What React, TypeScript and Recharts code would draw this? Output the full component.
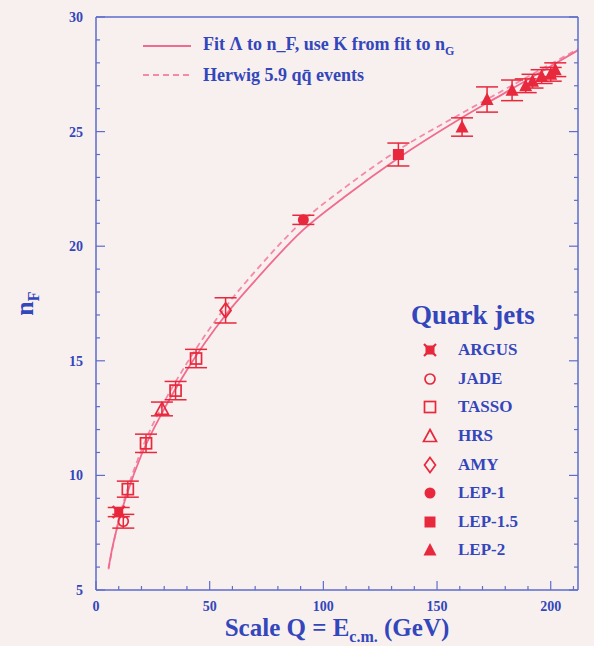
import React from "react";
import {
  ComposedChart,
  Line,
  Scatter,
  ErrorBar,
  XAxis,
  YAxis,
} from "recharts";

// ---- axis ticks ----
const X_TICKS = [0, 50, 100, 150, 200];
const X_MINOR = [10, 20, 30, 40, 60, 70, 80, 90, 110, 120, 130, 140, 160, 170, 180, 190, 210];
const Y_TICKS = [5, 10, 15, 20, 25, 30];
const Y_MINOR = [
  6, 7, 8, 9, 11, 12, 13, 14, 16, 17, 18, 19, 21, 22, 23, 24, 26, 27, 28, 29,
];

// ---- measurements (Q in GeV, mean multiplicity, error) ----
const ARGUS_Q = [10];
const ARGUS_N = [8.4];
const ARGUS_E = [0.2];

const JADE_Q = [12];
const JADE_N = [8.0];
const JADE_E = [0.3];

const TASSO_Q = [14, 22, 35, 44];
const TASSO_N = [9.4, 11.4, 13.7, 15.1];
const TASSO_E = [0.35, 0.4, 0.4, 0.4];

const HRS_Q = [29];
const HRS_N = [12.9];
const HRS_E = [0.3];

const AMY_Q = [57];
const AMY_N = [17.2];
const AMY_E = [0.55];

const LEP1_Q = [91.2];
const LEP1_N = [21.15];
const LEP1_E = [0.2];

const LEP15_Q = [133];
const LEP15_N = [24.0];
const LEP15_E = [0.5];

const LEP2_Q = [161, 172, 183, 189, 192, 196, 200, 202];
const LEP2_N = [25.2, 26.4, 26.8, 27.0, 27.2, 27.4, 27.5, 27.7];
const LEP2_E = [0.4, 0.55, 0.45, 0.3, 0.3, 0.3, 0.3, 0.3];

// ---- curves ----
const CURVE_Q = [5.5, 7, 10, 14, 20, 30, 40, 57, 70, 91, 110, 133, 160, 180, 200, 212];
const FIT_N = [5.95, 6.75, 8.0, 9.3, 10.9, 12.9, 14.6, 17.0, 18.5, 20.7, 22.2, 23.85, 25.55, 26.7, 27.85, 28.55];
const HERWIG_N = [5.9, 6.7, 8.05, 9.45, 11.1, 13.2, 14.9, 17.35, 18.9, 21.1, 22.6, 24.2, 25.75, 26.85, 27.95, 28.6];

const BG = "#f8f0ef";
const AXIS = "#5d6dcc";
const INK = "#3346bb";
const RED = "#e8283c";
const PINK = "#f06c8e";
const SERIF = "'Liberation Serif', 'DejaVu Serif', serif";

type Kind = "argus" | "jade" | "tasso" | "hrs" | "amy" | "lep1" | "lep15" | "lep2";

const toPoints = (q: number[], n: number[], e?: number[]) =>
  q.map((v, i) => ({ q: v, n: n[i], err: e ? e[i] : 0 }));

const SERIES: { name: string; kind: Kind; data: { q: number; n: number; err: number }[] }[] = [
  { name: "ARGUS", kind: "argus", data: toPoints(ARGUS_Q, ARGUS_N, ARGUS_E) },
  { name: "JADE", kind: "jade", data: toPoints(JADE_Q, JADE_N, JADE_E) },
  { name: "TASSO", kind: "tasso", data: toPoints(TASSO_Q, TASSO_N, TASSO_E) },
  { name: "HRS", kind: "hrs", data: toPoints(HRS_Q, HRS_N, HRS_E) },
  { name: "AMY", kind: "amy", data: toPoints(AMY_Q, AMY_N, AMY_E) },
  { name: "LEP-1", kind: "lep1", data: toPoints(LEP1_Q, LEP1_N, LEP1_E) },
  { name: "LEP-1.5", kind: "lep15", data: toPoints(LEP15_Q, LEP15_N, LEP15_E) },
  { name: "LEP-2", kind: "lep2", data: toPoints(LEP2_Q, LEP2_N, LEP2_E) },
];

const fitCurve = toPoints(CURVE_Q, FIT_N);
const herwigCurve = toPoints(CURVE_Q, HERWIG_N);

const X_ALL = [...X_TICKS, ...X_MINOR].sort((a, b) => a - b);
const Y_ALL = [...Y_TICKS, ...Y_MINOR].sort((a, b) => a - b);

function Marker({ kind, cx, cy }: { kind: Kind; cx: number; cy: number }) {
  const open = { fill: "none", stroke: RED, strokeWidth: 1.7 };
  switch (kind) {
    case "argus":
      return (
        <g stroke={RED} strokeWidth={2.2}>
          <rect x={cx - 4.5} y={cy - 4.5} width={9} height={9} fill={RED} stroke="none" />
          <line x1={cx - 6} y1={cy - 6} x2={cx + 6} y2={cy + 6} />
          <line x1={cx - 6} y1={cy + 6} x2={cx + 6} y2={cy - 6} />
        </g>
      );
    case "jade":
      return <circle cx={cx} cy={cy} r={5} {...open} />;
    case "tasso":
      return <rect x={cx - 5.5} y={cy - 5.5} width={11} height={11} {...open} />;
    case "hrs":
      return <polygon points={`${cx},${cy - 6.5} ${cx + 6.5},${cy + 5.5} ${cx - 6.5},${cy + 5.5}`} {...open} />;
    case "amy":
      return <polygon points={`${cx},${cy - 7.5} ${cx + 5.5},${cy} ${cx},${cy + 7.5} ${cx - 5.5},${cy}`} {...open} />;
    case "lep1":
      return <circle cx={cx} cy={cy} r={5.5} fill={RED} />;
    case "lep15":
      return <rect x={cx - 5.5} y={cy - 5.5} width={11} height={11} fill={RED} />;
    default:
      return <polygon points={`${cx},${cy - 7} ${cx + 6.5},${cy + 5.5} ${cx - 6.5},${cy + 5.5}`} fill={RED} />;
  }
}

// inward tick marks (long on labelled values) plus the number where labelled
const frameTick = (side: "bottom" | "top" | "left" | "right", major: number[], labelled: boolean) => (props: any) => {
  const { x, y, payload } = props;
  const isMajor = major.includes(payload.value);
  const len = isMajor ? 9 : 4;
  let x2 = x;
  let y2 = y;
  if (side === "bottom") y2 = y - len;
  if (side === "top") y2 = y + len;
  if (side === "left") x2 = x + len;
  if (side === "right") x2 = x - len;
  return (
    <g>
      <line x1={x} y1={y} x2={x2} y2={y2} stroke={AXIS} strokeWidth={1.2} />
      {labelled && isMajor && side === "bottom" && (
        <text x={x} y={y + 21} textAnchor="middle" fill={INK} fontFamily={SERIF} fontSize={14} fontWeight="bold">
          {payload.value}
        </text>
      )}
      {labelled && isMajor && side === "left" && (
        <text x={x - 13} y={y + 5} textAnchor="end" fill={INK} fontFamily={SERIF} fontSize={14} fontWeight="bold">
          {payload.value}
        </text>
      )}
    </g>
  );
};

const XTitle = (props: any) => {
  const { x, y, width } = props.viewBox;
  return (
    <text x={x + width / 2} y={y + 46} textAnchor="middle" fill={INK} fontFamily={SERIF} fontWeight="bold" fontSize={25}>
      Scale Q = E
      <tspan fontSize={16} dy={6}>c.m.</tspan>
      <tspan dy={-6}> (GeV)</tspan>
    </text>
  );
};

const YTitle = (props: any) => {
  const { y, height } = props.viewBox;
  const cy = y + height / 2;
  return (
    <text x={33} y={cy} transform={`rotate(-90, 33, ${cy})`} textAnchor="middle" fill={INK} fontFamily={SERIF} fontWeight="bold" fontSize={26}>
      n
      <tspan fontSize={16} dy={6}>F</tspan>
    </text>
  );
};

export default function App() {
  return (
    <div style={{ position: "absolute", left: 0, top: 0, width: 594, height: 646, background: BG, overflow: "hidden" }}>
      <ComposedChart width={594} height={646} margin={{ top: 17, right: 16, bottom: 36, left: 66 }}>
        {/* labelled frame axes */}
        <XAxis
          xAxisId="x"
          dataKey="q"
          type="number"
          domain={[0, 212]}
          ticks={X_ALL}
          interval={0}
          height={20}
          tickLine={false}
          tickSize={0}
          tickMargin={0}
          stroke={AXIS}
          strokeWidth={1.5}
          tick={frameTick("bottom", X_TICKS, true)}
          allowDataOverflow
          label={{ content: XTitle }}
        />
        <YAxis
          yAxisId="y"
          dataKey="n"
          type="number"
          domain={[5, 30]}
          ticks={Y_ALL}
          interval={0}
          width={30}
          tickLine={false}
          tickSize={0}
          tickMargin={0}
          stroke={AXIS}
          strokeWidth={1.5}
          tick={frameTick("left", Y_TICKS, true)}
          allowDataOverflow
          label={{ content: YTitle }}
        />

        {/* mirrored top and right frame */}
        <XAxis xAxisId="xT" type="number" domain={[0, 212]} allowDataOverflow ticks={X_ALL} interval={0} orientation="top" mirror height={1} tickLine={false} tickSize={0} tickMargin={0} stroke={AXIS} strokeWidth={1.5} tick={frameTick("top", X_TICKS, false)} />
        <YAxis yAxisId="yR" type="number" domain={[5, 30]} allowDataOverflow ticks={Y_ALL} interval={0} orientation="right" mirror width={1} tickLine={false} tickSize={0} tickMargin={0} stroke={AXIS} strokeWidth={1.5} tick={frameTick("right", Y_TICKS, false)} />

        <Line
          xAxisId="x"
          yAxisId="y"
          data={herwigCurve}
          dataKey="n"
          type="monotone"
          stroke="#f48aa8"
          strokeWidth={1.8}
          strokeDasharray="6 4"
          dot={false}
          isAnimationActive={false}
        />
        <Line
          xAxisId="x"
          yAxisId="y"
          data={fitCurve}
          dataKey="n"
          type="monotone"
          stroke={PINK}
          strokeWidth={1.8}
          dot={false}
          isAnimationActive={false}
        />

        {SERIES.map((s) => (
          <Scatter
            key={s.name}
            name={s.name}
            xAxisId="x"
            yAxisId="y"
            data={s.data}
            dataKey="n"
            isAnimationActive={false}
            shape={(p: any) => <Marker kind={s.kind} cx={p.cx} cy={p.cy} />}
          >
            <ErrorBar dataKey="err" direction="y" width={11} stroke={RED} strokeWidth={1.5} />
          </Scatter>
        ))}
      </ComposedChart>

      {/* curve key */}
      <div style={{ position: "absolute", left: 143, top: 32, fontFamily: SERIF, fontWeight: "bold", fontSize: 18, color: INK }}>
        <div style={{ display: "flex", alignItems: "center", height: 28 }}>
          <svg width={48} height={6} style={{ marginRight: 12 }}>
            <line x1={0} y1={3} x2={48} y2={3} stroke={PINK} strokeWidth={2} />
          </svg>
          <span>
            Fit Λ to n_F, use K from fit to n<sub style={{ fontSize: 12 }}>G</sub>
          </span>
        </div>
        <div style={{ display: "flex", alignItems: "center", height: 30 }}>
          <svg width={48} height={6} style={{ marginRight: 12 }}>
            <line x1={0} y1={3} x2={48} y2={3} stroke="#f48aa8" strokeWidth={2} strokeDasharray="6 4" />
          </svg>
          <span>Herwig 5.9 qq̄ events</span>
        </div>
      </div>

      {/* experiment key */}
      <div style={{ position: "absolute", left: 411, top: 300, fontFamily: SERIF, fontWeight: "bold", color: INK }}>
        <div style={{ fontSize: 27, height: 36 }}>Quark jets</div>
        {SERIES.map((s) => (
          <div key={s.name} style={{ display: "flex", alignItems: "center", height: 28.6, fontSize: 17 }}>
            <svg width={20} height={18} style={{ marginLeft: 9, marginRight: 18 }}>
              <Marker kind={s.kind} cx={10} cy={9} />
            </svg>
            <span>{s.name}</span>
          </div>
        ))}
      </div>
    </div>
  );
}
